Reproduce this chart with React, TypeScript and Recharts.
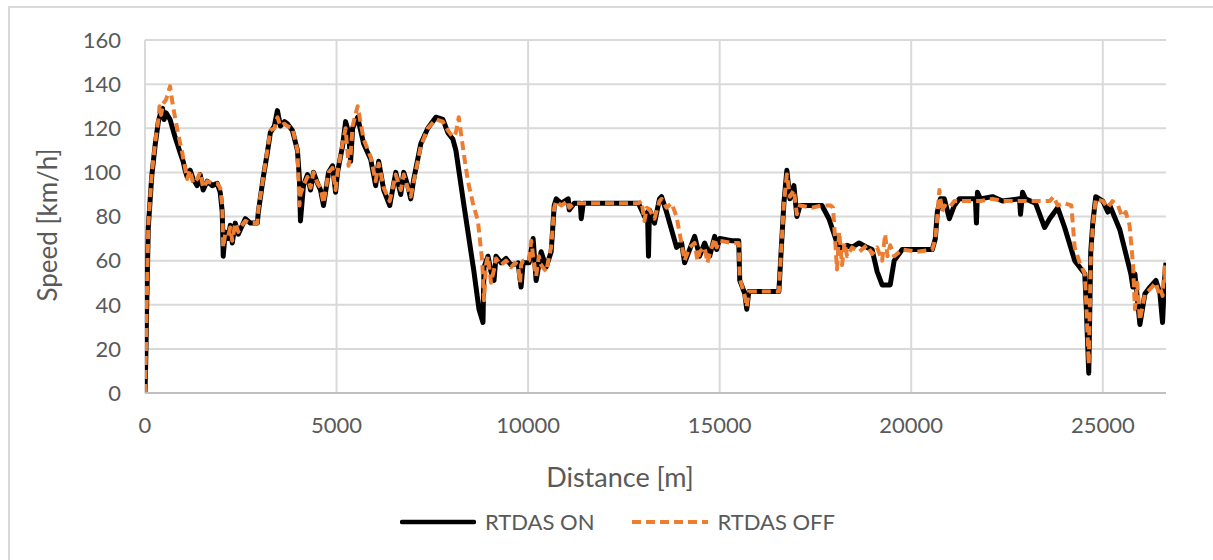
import React from 'react';
import { LineChart, Line, XAxis, YAxis, CartesianGrid, Legend } from 'recharts';

// distance [m] / speed [km/h]
const onDist = [
  0, 20, 44, 86, 175, 262, 348, 393, 458, 497, 550, 654, 785, 916, 995, 1047, 1099, 1178, 1257, 1361,
  1440, 1518, 1623, 1754, 1885, 1963, 2016, 2042, 2094, 2173, 2225, 2278, 2356, 2435, 2487, 2618, 2749, 2932, 2958, 3089,
  3194, 3272, 3377, 3456, 3534, 3639, 3717, 3848, 3979, 4031, 4058, 4136, 4241, 4320, 4398, 4503, 4581, 4660, 4791, 4895,
  4974, 5026, 5157, 5236, 5314, 5367, 5419, 5550, 5707, 5890, 6021, 6100, 6231, 6388, 6545, 6676, 6754, 6859, 6937, 7016,
  7199, 7382, 7592, 7775, 7906, 8037, 8115, 8325, 8586, 8717, 8822, 8848, 8953, 9031, 9110, 9162, 9293, 9424, 9555, 9738,
  9817, 9869, 10026, 10131, 10209, 10340, 10471, 10602, 10681, 10733, 10864, 11047, 11073, 11204, 11361, 11387, 11440, 11911, 12435, 12880,
  13037, 13116, 13142, 13168, 13299, 13430, 13482, 13613, 13875, 14006, 14085, 14215, 14346, 14477, 14608, 14739, 14870, 14922, 15001, 15315,
  15498, 15524, 15655, 15707, 15760, 16100, 16545, 16623, 16676, 16754, 16833, 16937, 17016, 17095, 17409, 17670, 17853, 18063, 18194, 18325,
  18456, 18639, 18848, 18979, 19110, 19241, 19451, 19555, 19765, 20157, 20550, 20629, 20681, 20760, 20864, 20995, 21126, 21257, 21675, 21702,
  21728, 21806, 22120, 22382, 22827, 22853, 22906, 22984, 23246, 23482, 23613, 23822, 24005, 24267, 24398, 24529, 24555, 24634, 24686, 24739,
  24817, 25000, 25131, 25183, 25445, 25733, 25785, 25838, 25969, 26100, 26231, 26388, 26492, 26560, 26610, 26650,
];
const onSpeed = [
  0, 15, 39, 75, 98, 112, 123, 126, 129, 124, 127, 124, 116, 109, 105, 101, 98, 101, 97, 94,
  99, 92, 96, 94, 95, 91, 82, 62, 73, 70, 76, 68, 77, 72, 74, 79, 77, 77, 82, 98,
  109, 118, 121, 128, 121, 123, 122, 119, 110, 97, 78, 94, 99, 92, 100, 95, 92, 85, 100, 103,
  91, 100, 112, 123, 118, 105, 120, 125, 113, 106, 94, 105, 92, 85, 100, 90, 100, 94, 88, 97,
  113, 120, 125, 124, 118, 115, 110, 85, 55, 38, 32, 57, 62, 55, 51, 62, 59, 61, 58, 59,
  48, 59, 59, 70, 51, 64, 57, 64, 85, 88, 86, 88, 83, 86, 86, 79, 86, 86, 86, 86,
  80, 82, 62, 83, 77, 88, 89, 82, 66, 68, 59, 65, 71, 62, 68, 62, 71, 65, 70, 69,
  69, 51, 45, 38, 46, 46, 46, 70, 86, 101, 88, 94, 80, 85, 85, 85, 79, 68, 65, 67,
  66, 68, 66, 65, 55, 49, 49, 60, 65, 65, 65, 70, 82, 88, 88, 79, 85, 88, 88, 77,
  91, 88, 89, 87, 88, 81, 91, 88, 86, 75, 79, 84, 75, 60, 57, 54, 45, 9, 64, 77,
  89, 87, 82, 85, 74, 54, 48, 54, 31, 45, 48, 51, 45, 32, 51, 59,
];

const offDist = [
  0, 20, 44, 86, 175, 262, 348, 380, 420, 470, 550, 654, 730, 860, 970, 1047, 1099, 1178, 1257, 1361,
  1440, 1518, 1623, 1754, 1885, 1963, 2016, 2042, 2094, 2173, 2225, 2278, 2356, 2435, 2487, 2618, 2749, 2932, 2958, 3089,
  3194, 3272, 3377, 3456, 3534, 3639, 3717, 3848, 3979, 4000, 4031, 4058, 4136, 4241, 4320, 4398, 4503, 4581, 4660, 4791,
  4895, 4974, 5026, 5157, 5236, 5314, 5367, 5419, 5550, 5707, 5890, 6021, 6100, 6231, 6388, 6545, 6676, 6754, 6859, 6937,
  7016, 7199, 7382, 7592, 7775, 7906, 8037, 8115, 8190, 8325, 8430, 8560, 8690, 8800, 8850, 8900, 8953, 9031, 9110, 9162,
  9293, 9424, 9555, 9660, 9738, 9790, 9817, 9869, 10026, 10080, 10131, 10209, 10280, 10340, 10471, 10550, 10602, 10681, 10733, 10864,
  11047, 11073, 11204, 11361, 11440, 11911, 12435, 12880, 12960, 13037, 13100, 13168, 13299, 13430, 13482, 13613, 13744, 13875, 13980, 14085,
  14215, 14346, 14420, 14477, 14608, 14680, 14739, 14870, 14922, 15001, 15315, 15498, 15524, 15655, 15707, 15760, 16100, 16545, 16623, 16676,
  16754, 16833, 16937, 17016, 17095, 17409, 17670, 17900, 17960, 18063, 18120, 18194, 18260, 18325, 18456, 18639, 18848, 18979, 19110, 19241,
  19320, 19380, 19451, 19555, 19765, 20157, 20550, 20629, 20681, 20735, 20800, 20864, 20995, 21126, 21257, 21675, 21728, 21806, 22120, 22382,
  22827, 22984, 23246, 23482, 23613, 23717, 23822, 24005, 24180, 24267, 24398, 24529, 24555, 24634, 24686, 24739, 24817, 25000, 25131, 25250,
  25400, 25500, 25600, 25700, 25790, 25838, 25900, 25969, 26100, 26231, 26388, 26450, 26492, 26560, 26610, 26650,
];
const offSpeed = [
  0, 15, 40, 76, 99, 113, 124, 130, 126, 131, 133, 139, 130, 118, 109, 102, 97, 101, 95, 97,
  100, 93, 96, 95, 95, 93, 85, 66, 72, 71, 75, 69, 77, 73, 75, 78, 77, 77, 83, 98,
  110, 119, 120, 125, 121, 122, 121, 120, 110, 100, 85, 90, 94, 98, 93, 100, 95, 93, 86, 100,
  102, 92, 100, 113, 120, 103, 108, 121, 130, 115, 107, 96, 104, 93, 87, 99, 92, 99, 93, 89,
  96, 112, 120, 124, 123, 119, 116, 118, 125, 108, 96, 86, 78, 60, 42, 58, 62, 50, 56, 61,
  58, 60, 57, 59, 58, 50, 58, 60, 60, 69, 62, 53, 62, 58, 55, 62, 66, 84, 87, 85,
  87, 84, 86, 86, 86, 86, 86, 86, 87, 78, 84, 83, 79, 87, 88, 84, 86, 80, 70, 60,
  66, 68, 60, 64, 66, 59, 63, 70, 66, 69, 68, 68, 52, 44, 39, 46, 46, 46, 70, 86,
  99, 89, 92, 81, 85, 84, 85, 85, 84, 56, 73, 58, 68, 62, 66, 64, 67, 63, 66, 60,
  72, 62, 67, 62, 65, 64, 65, 70, 80, 92, 82, 85, 84, 87, 87, 87, 87, 87, 88, 87,
  87, 87, 87, 87, 87, 89, 85, 86, 85, 66, 59, 54, 46, 13, 60, 76, 88, 87, 84, 87,
  85, 80, 82, 76, 58, 38, 50, 33, 45, 47, 50, 46, 48, 44, 57, 48,
];

const xTicks = [0, 5000, 10000, 15000, 20000, 25000];
const yTicks = [0, 20, 40, 60, 80, 100, 120, 140, 160];

const onData = onDist.map((d, i) => ({ d, v: onSpeed[i] }));
const offData = offDist.map((d, i) => ({ d, v: offSpeed[i] }));

const FONT = 'Lato, "Open Sans", sans-serif';
const GREY = '#595959';
const ORANGE = '#ED7D31';

function LegendBox() {
  return (
    <div style={{ display: 'flex', justifyContent: 'center', alignItems: 'center', paddingLeft: 22, fontFamily: FONT, fontSize: 22, color: GREY }}>
      <svg width={76} height={8} style={{ marginRight: 9 }}>
        <line x1={2} y1={4} x2={74} y2={4} stroke="#000" strokeWidth={4.5} strokeLinecap="round" />
      </svg>
      <span style={{ marginRight: 38 }}>RTDAS ON</span>
      <svg width={76} height={8} style={{ marginRight: 9 }}>
        <line x1={0} y1={4} x2={76} y2={4} stroke={ORANGE} strokeWidth={4} strokeDasharray="9 5" />
      </svg>
      <span>RTDAS OFF</span>
    </div>
  );
}

export default function App() {
  return (
    <div style={{ position: 'absolute', left: 0, top: 0, width: 1213, height: 560, background: '#fff' }}>
      <div style={{ position: 'absolute', left: 8, top: 6, width: 1220, height: 560, borderTop: '2px solid #d9d9d9', borderLeft: '2px solid #d9d9d9' }} />
      <LineChart width={1213} height={560} margin={{ top: 40, right: 47, left: 0, bottom: 67 }}>
        <CartesianGrid stroke="#d9d9d9" strokeWidth={2} horizontalValues={yTicks} verticalValues={xTicks} />
        <XAxis
          dataKey="d"
          type="number"
          domain={[0, 26650]}
          ticks={xTicks}
          allowDataOverflow
          height={100}
          tickLine={false}
          tickSize={0}
          tickMargin={24}
          axisLine={{ stroke: '#bfbfbf', strokeWidth: 2 }}
          tick={{ fill: GREY, fontSize: 22, fontFamily: FONT }}
          label={{
            content: () => (
              <text x={620} y={487} textAnchor="middle" fill={GREY} fontSize={27} fontFamily={FONT}>Distance [m]</text>
            ),
          }}
        />
        <YAxis
          dataKey="v"
          type="number"
          domain={[0, 160]}
          ticks={yTicks}
          width={145}
          tickLine={false}
          tickSize={0}
          tickMargin={24}
          axisLine={false}
          tick={{ fill: GREY, fontSize: 22, fontFamily: FONT }}
          label={{
            content: () => (
              <text x={0} y={0} transform="translate(57,225) rotate(-90)" textAnchor="middle" fill={GREY} fontSize={26} fontFamily={FONT}>Speed [km/h]</text>
            ),
          }}
        />
        <Legend
          layout="vertical"
          verticalAlign="middle"
          align="center"
          wrapperStyle={{ left: 0, top: 508, width: 1213 }}
          content={() => <LegendBox />}
        />
        <Line data={onData} dataKey="v" type="linear" stroke="#000" strokeWidth={5} dot={false} strokeLinejoin="round" isAnimationActive={false} />
        <Line data={offData} dataKey="v" type="linear" stroke={ORANGE} strokeWidth={4} strokeDasharray="9 5" dot={false} strokeLinejoin="round" isAnimationActive={false} />
      </LineChart>
    </div>
  );
}
